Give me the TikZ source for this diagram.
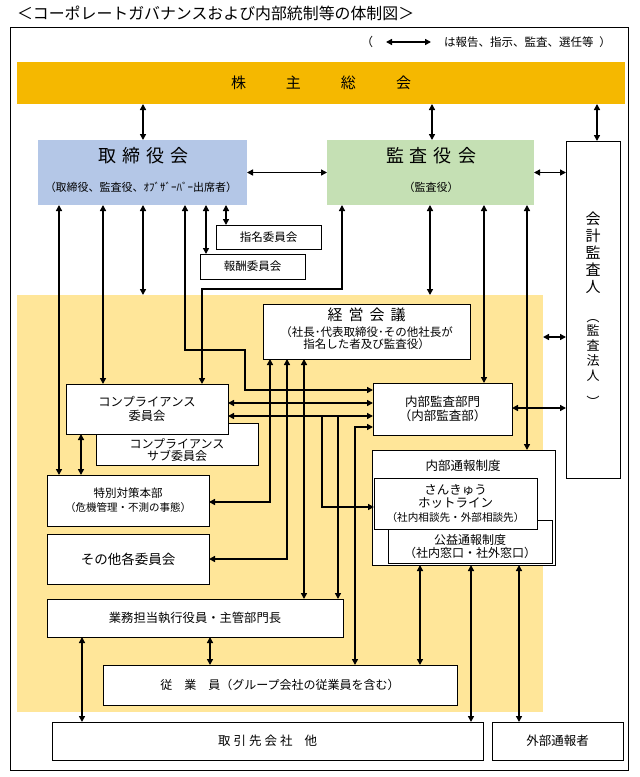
\documentclass[tikz,border=0pt]{standalone}
\usepackage{fontspec}
\usepackage{graphicx}
\setmainfont{Noto Sans CJK JP}
\usetikzlibrary{arrows.meta}

\definecolor{kabucol}{HTML}{F5B800}
\definecolor{toricol}{HTML}{B4C7E7}
\definecolor{kansacol}{HTML}{C5E0B4}
\definecolor{shikkoucol}{HTML}{FFE699}

\newcommand{\jsize}[2]{\fontsize{#1}{#2}\selectfont}

\tikzset{
  box/.style={rectangle,draw=black,line width=0.9pt,fill=white,inner sep=0pt,outer sep=0pt,align=center},
  pane/.style={rectangle,inner sep=0pt,outer sep=0pt},
  txt/.style={inner sep=0pt,outer sep=0pt,align=center},
  link/.style={line width=1.6pt,>={Triangle[length=6pt,width=6pt]},<->},
}

\begin{document}
\begin{tikzpicture}[x=1pt,y=-1pt]
      \useasboundingbox (0,0) rectangle (640,777);
      \node[txt,anchor=west,font=\jsize{15.9}{16}] (title) at (17,13) {＜コーポレートガバナンスおよび内部統制等の体制図＞};
      \draw[line width=1pt] (10,27) rectangle (628,770);
      \node[txt,font=\jsize{12}{12}] (lparen) at (367,42) {（};
      \coordinate (la) at (386,42);
      \coordinate (lb) at (431,42);
      \node[txt,anchor=west,font=\jsize{11.5}{12}] (legend) at (444,42) {は報告、指示、監査、選任等\hspace{6pt}）};
      \draw
        (321,83) node[pane,fill=kabucol,minimum width=608pt,minimum height=42pt,font=\jsize{15}{15}] (kabu){株\hspace{40pt}主\hspace{40pt}総\hspace{40pt}会}
        (142.5,172.5) node[pane,fill=toricol,minimum width=209pt,minimum height=65pt] (tori){}
        (430.5,172.5) node[pane,fill=kansacol,minimum width=207pt,minimum height=65pt] (kansa){}
        (280,503.5) node[pane,fill=shikkoucol,minimum width=526pt,minimum height=417pt] (shikkou){};
      \draw
        (143.5,156) node[txt,font=\jsize{18}{18}] (torit){取\hspace{6pt}締\hspace{6pt}役\hspace{6pt}会}
        (141,187) node[txt,font=\jsize{11}{11}] (toris){（取締役、監査役、ｵﾌﾞｻﾞｰﾊﾞｰ出席者）}
        (431,156) node[txt,font=\jsize{18}{18}] (kansat){監\hspace{6pt}査\hspace{6pt}役\hspace{6pt}会}
        (431,187) node[txt,font=\jsize{11}{11}] (kansas){（監査役）};
      \draw
        (593,309.5) node[box,minimum width=54pt,minimum height=337pt] (kaikei){}
        (593,253) node[txt,font=\jsize{15}{17}] (kaikeit){会\\計\\監\\査\\人}
        (593,359.5) node[txt,font=\jsize{13}{15}] (kaikeis){\rotatebox{-90}{（}\\監\\査\\法\\人\\\rotatebox{-90}{）}}
        (268.5,237) node[box,minimum width=105pt,minimum height=24pt,font=\jsize{11.5}{12}] (shimei){指名委員会}
        (252.5,266.5) node[box,minimum width=105pt,minimum height=25pt,font=\jsize{11.5}{12}] (houshu){報酬委員会}
        (366.5,331.5) node[box,minimum width=207pt,minimum height=55pt] (keiei){}
        (366.5,315) node[txt,font=\jsize{15}{15}] (keieit){経\hspace{6pt}営\hspace{6pt}会\hspace{6pt}議}
        (366.5,338) node[txt,font=\jsize{11.5}{12.5}] (keieis){（社長･代表取締役･その他社長が\\指名した者及び監査役）}
        (177,444) node[box,minimum width=162pt,minimum height=42pt] (compsub){}
        (177,450) node[txt,font=\jsize{12}{12}] (compsubt){コンプライアンス\\サブ委員会}
        (147,409) node[box,minimum width=162pt,minimum height=50pt,font=\jsize{12.3}{14}] (comp){コンプライアンス\\委員会}
        (442.5,409) node[box,minimum width=139pt,minimum height=52pt,font=\jsize{12.5}{13.5}] (naibu){内部監査部門\\（内部監査部）}
        (463.5,507.5) node[box,minimum width=183pt,minimum height=115pt] (tsuho){}
        (463,466) node[txt,font=\jsize{12.5}{12.5}] (tsuhot){内部通報制度}
        (470,541.5) node[box,minimum width=164pt,minimum height=43pt] (koueki){}
        (470,546.5) node[txt,font=\jsize{12}{13}] (kouekit){公益通報制度\\（社内窓口・社外窓口）}
        (455.5,503.5) node[box,minimum width=163pt,minimum height=51pt,font=\jsize{12.5}{13.5}] (hotline){さんきゅう\\ホットライン\\{\jsize{10.6}{13.5}（社内相談先・外部相談先）}}
        (128,500.5) node[box,minimum width=162pt,minimum height=51pt,font=\jsize{11.5}{14}] (tokubetsu){特別対策本部\\{\jsize{10.5}{14}（危機管理・不測の事態）}}
        (128,559) node[box,minimum width=162pt,minimum height=50pt,font=\jsize{13.5}{14}] (sonota){その他各委員会}
        (195,618) node[box,minimum width=296pt,minimum height=38pt,font=\jsize{12.3}{14}] (gyomu){業務担当執行役員・主管部門長}
        (280,685) node[box,minimum width=354pt,minimum height=40pt,font=\jsize{12}{14}] (jugyo){従　業　員（グループ会社の従業員を含む）}
        (267.5,741) node[box,minimum width=431pt,minimum height=38pt,font=\jsize{12.5}{14}] (torihiki){取\hspace{3pt}引\hspace{3pt}先\hspace{3pt}会\hspace{3pt}社\hspace{12pt}他}
        (557.5,741) node[box,minimum width=131pt,minimum height=38pt,font=\jsize{12.5}{14}] (gaibu){外部通報者};
      \begin{scope}[link]
        \draw[line width=2pt] (la) to (lb);
        \draw (143,0 |- kabu.south) to (143,0 |- tori.north);
        \draw (432,0 |- kabu.south) to (432,0 |- kansa.north);
        \draw (597,0 |- kabu.south) to (597,0 |- kaikei.north);
        \draw (tori.east) to (kansa.west);
        \draw (kansa.east) to (kansa.east -| kaikei.west);
        \draw (59,0 |- tori.south) to (59,0 |- tokubetsu.north);
        \draw (81,0 |- comp.south) to (81,0 |- tokubetsu.north);
        \draw (103,0 |- tori.south) to (103,0 |- comp.north);
        \draw (143,0 |- tori.south) to (143,0 |- shikkou.north);
        \draw (185,0 |- tori.south) |- (245,350) |- (naibu.west |- 0,390);
        \draw (206,0 |- tori.south) to (206,0 |- houshu.north);
        \draw (226,0 |- tori.south) to (226,0 |- shimei.north);
        \draw (342,0 |- kansa.south) -- (342,289) -| (202,0 |- comp.north);
        \draw (430,0 |- kansa.south) to (430,0 |- shikkou.north);
        \draw (484,0 |- kansa.south) to (484,0 |- naibu.north);
        \draw (527,0 |- kansa.south) to (527,0 |- tsuho.north);
        \draw (shikkou.east |- 0,337) to (kaikei.west |- 0,337);
        \draw (naibu.east |- 0,408) to (kaikei.west |- 0,408);
        \draw (270,0 |- keiei.south) |- (tokubetsu.east |- 0,502);
        \draw (287,0 |- keiei.south) |- (sonota.east |- 0,559);
        \draw (304,0 |- keiei.south) to (304,0 |- gyomu.north);
        \draw (comp.east |- 0,403) to (naibu.west |- 0,403);
        \draw (comp.east |- 0,416) to (naibu.west |- 0,416);
        \draw[->] (322,416) |- (hotline.west |- 0,507);
        \draw[->] (338,416) to (338,0 |- gyomu.north);
        \draw (naibu.west |- 0,427) -| (355,0 |- jugyo.north);
        \draw (82,0 |- gyomu.south) to (82,0 |- torihiki.north);
        \draw (210,0 |- gyomu.south) to (210,0 |- jugyo.north);
        \draw (420,0 |- tsuho.south) to (420,0 |- jugyo.north);
        \draw (471,0 |- tsuho.south) to (471,0 |- torihiki.north);
        \draw (519,0 |- tsuho.south) to (519,0 |- gaibu.north);
      \end{scope}
    \end{tikzpicture}
\end{document}
